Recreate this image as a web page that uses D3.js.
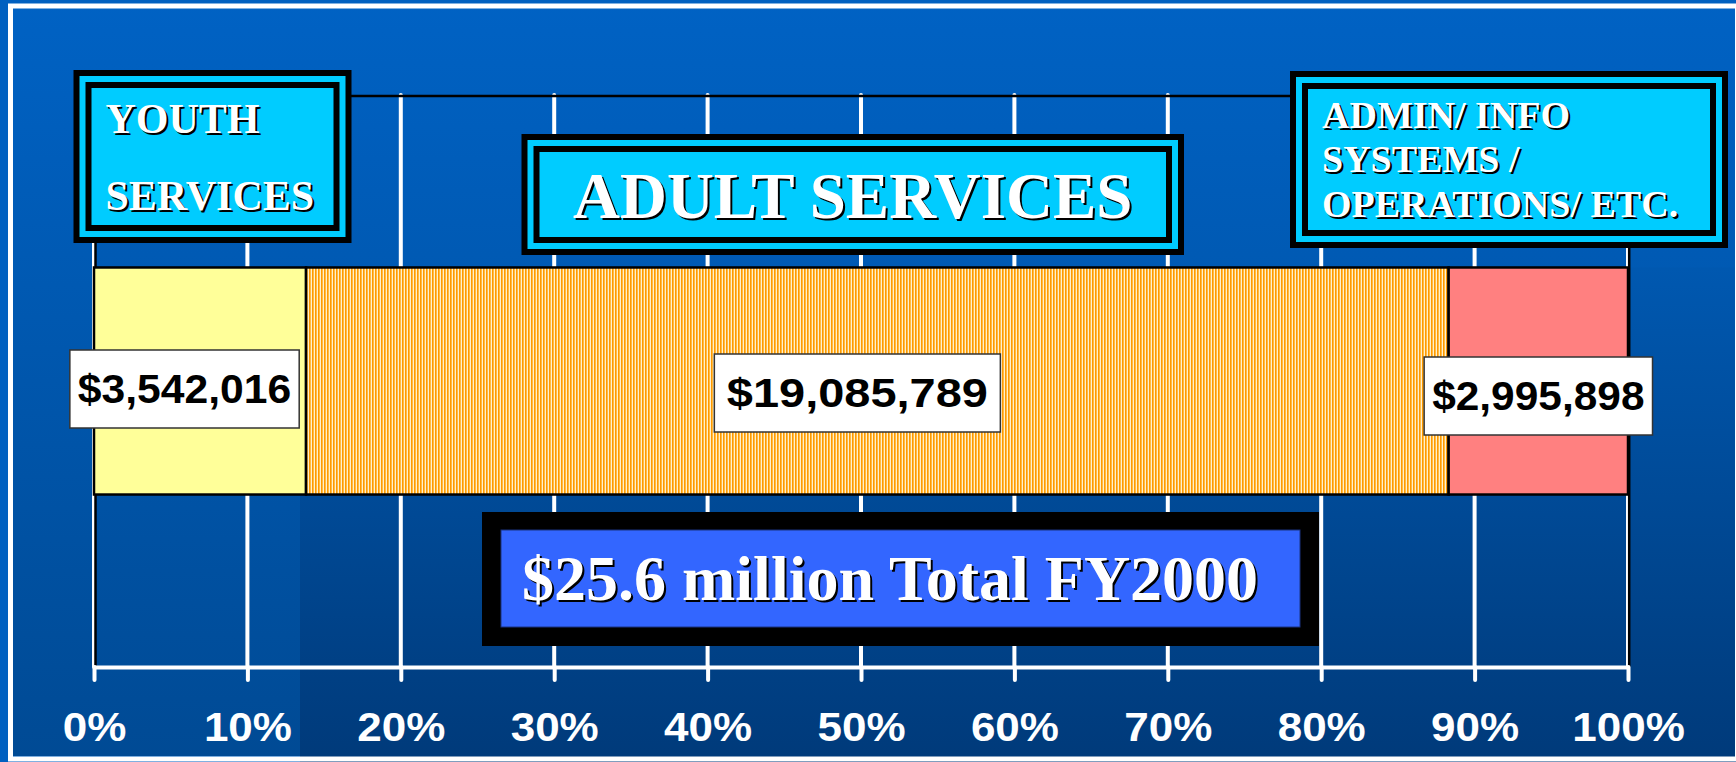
<!DOCTYPE html>
<html>
<head>
<meta charset="utf-8">
<script src="https://cdn.jsdelivr.net/npm/d3@7"></script>
<style>
  html, body { margin: 0; padding: 0; background: #0060c0; overflow: hidden; }
  svg { display: block; }
</style>
</head>
<body>
<svg id="chart" width="1736" height="762"></svg>
<script>
// Budget split for FY2000, stacked as one 100% bar
const categories = ["Youth Services", "Adult Services", "Admin / Info Systems / Operations"];
const amounts = [3542016, 19085789, 2995898];
const segmentColors = ["#ffff99", "url(#adultStripes)", "#ff8080"];

const tickValues = [0, 10, 20, 30, 40, 50, 60, 70, 80, 90, 100];
const tickLabels = ["0%", "10%", "20%", "30%", "40%", "50%", "60%", "70%", "80%", "90%", "100%"];

const headingLines = [
  ["YOUTH", "SERVICES"],
  ["ADULT SERVICES"],
  ["ADMIN/ INFO", "SYSTEMS /", "OPERATIONS/ ETC."]
];
const totalCaption = "$25.6 million Total FY2000";

// ---- layout ----
const W = 1736, H = 762;
const plot = { left: 94, right: 1628, top: 95, bottom: 667 };
const svg = d3.select("#chart");
const defs = svg.append("defs");

const x = d3.scaleLinear().domain([0, 100]).range([plot.left, plot.right]);
const y = d3.scaleBand().domain(["FY2000"]).range([plot.top, plot.bottom]).padding(0.4317);

const total = d3.sum(amounts);
let acc = 0;
const segments = amounts.map((v, i) => {
  const s = { name: categories[i], value: v, start: acc / total * 100, end: (acc + v) / total * 100, fill: segmentColors[i] };
  acc += v;
  return s;
});

// ---- background ----
const bgGrad = defs.append("linearGradient").attr("id", "bg")
  .attr("gradientUnits", "userSpaceOnUse").attr("x1", 0).attr("y1", 0).attr("x2", 0).attr("y2", H);
bgGrad.append("stop").attr("offset", 0).attr("stop-color", "#0062c4");
bgGrad.append("stop").attr("offset", 1).attr("stop-color", "#004a94");

const bandTop = y("FY2000");
const darkGrad = defs.append("linearGradient").attr("id", "bgDark")
  .attr("gradientUnits", "userSpaceOnUse").attr("x1", 0).attr("y1", bandTop).attr("x2", 0).attr("y2", H);
darkGrad.append("stop").attr("offset", 0).attr("stop-color", "#0058b0");
darkGrad.append("stop").attr("offset", 1).attr("stop-color", "#003a7a");

svg.append("rect").attr("width", W).attr("height", H).attr("fill", "#0060c0");
svg.append("rect").attr("x", 12).attr("y", 8).attr("width", W - 12).attr("height", H - 14).attr("fill", "url(#bg)");
svg.append("rect").attr("x", 300).attr("y", bandTop).attr("width", W - 300).attr("height", H - bandTop).attr("fill", "url(#bgDark)");
// white frame
svg.append("rect").attr("x", 10.5).attr("y", 6).attr("width", W - 10.5 + 1.5).attr("height", H - 9)
  .attr("fill", "none").attr("stroke", "#ffffff").attr("stroke-width", 5);

// ---- stripe pattern for the adult segment ----
const pat = defs.append("pattern").attr("id", "adultStripes")
  .attr("patternUnits", "userSpaceOnUse").attr("width", 3).attr("height", 10);
pat.append("rect").attr("width", 3).attr("height", 10).attr("fill", "#fff0cc");
pat.append("rect").attr("x", 0).attr("width", 1).attr("height", 10).attr("fill", "#ff9900");
pat.append("rect").attr("x", 1).attr("width", 1).attr("height", 10).attr("fill", "#ffbb44");

// ---- gridlines ----
svg.append("g").selectAll("line").data(tickValues).join("line")
  .attr("x1", d => x(d)).attr("x2", d => x(d))
  .attr("y1", plot.top).attr("y2", plot.bottom)
  .attr("stroke", "#ffffff").attr("stroke-width", 4).attr("stroke-linecap", "round");

// black plot frame (top, left, right)
const frame = svg.append("g").attr("stroke", "#000").attr("stroke-width", 2.5);
frame.append("line").attr("x1", x(0)).attr("x2", x(100) + 2).attr("y1", plot.top + 1).attr("y2", plot.top + 1);
frame.append("line").attr("x1", x(0) + 1.5).attr("x2", x(0) + 1.5).attr("y1", plot.top).attr("y2", plot.bottom);
frame.append("line").attr("x1", x(100) + 1.2).attr("x2", x(100) + 1.2).attr("y1", plot.top).attr("y2", plot.bottom);

// ---- heading boxes ----
const headingBoxes = [
  { x: 73.5, y: 70, w: 278, h: 173, anchor: "start", tx: 32, lines: headingLines[0], size: 42, baselines: [63, 140] },
  { x: 521.5, y: 134, w: 662.5, h: 121, anchor: "middle", tx: null, lines: headingLines[1], size: 65, baselines: [84] },
  { x: 1290, y: 71, w: 438, h: 177, anchor: "start", tx: 32, lines: headingLines[2], size: 38, baselines: [57, 101, 146] }
];

function shadowText(g, txt, tx, ty, size, anchor, family) {
  g.append("text").attr("x", tx + 2).attr("y", ty + 2).text(txt)
    .attr("text-anchor", anchor).attr("font-family", family).attr("font-weight", "bold")
    .attr("font-size", size).attr("fill", "#000");
  g.append("text").attr("x", tx).attr("y", ty).text(txt)
    .attr("text-anchor", anchor).attr("font-family", family).attr("font-weight", "bold")
    .attr("font-size", size).attr("fill", "#ffffff");
}

const serif = "'Liberation Serif', 'Times New Roman', serif";
headingBoxes.forEach(b => {
  const g = svg.append("g").attr("transform", `translate(${b.x},${b.y})`);
  [["#000", 0], ["#00ccff", 6], ["#000", 12], ["#00ccff", 18]].forEach(([c, inset]) => {
    g.append("rect").attr("x", inset).attr("y", inset)
      .attr("width", b.w - 2 * inset).attr("height", b.h - 2 * inset).attr("fill", c);
  });
  const tx = b.anchor === "middle" ? b.w / 2 : b.tx;
  b.lines.forEach((line, i) => shadowText(g, line, tx, b.baselines[i], b.size, b.anchor, serif));
});

// ---- stacked bar ----
const bars = svg.append("g");
bars.selectAll("rect").data(segments).join("rect")
  .attr("x", d => x(d.start)).attr("width", d => x(d.end) - x(d.start))
  .attr("y", y("FY2000")).attr("height", y.bandwidth())
  .attr("fill", d => d.fill)
  .attr("stroke", "#000").attr("stroke-width", 2.5);

// ---- value labels ----
const fmt = d3.format("$,");
const sans = "'Liberation Sans', Arial, Helvetica, sans-serif";
const labelNudge = [-15.5, -20, 0];
const labelDy = [8, 12, 15];
const labelStretch = [1.04, 1.145, 1.035];
const labelPad = [16, 25, 16];
const lbls = svg.append("g").selectAll("g").data(segments).join("g")
  .attr("transform", (d, i) => `translate(${(x(d.start) + x(d.end)) / 2 + labelNudge[i]},${y("FY2000") + y.bandwidth() / 2 + labelDy[i]})`);
lbls.each(function (d, i) {
  const g = d3.select(this);
  const tg = g.append("g").attr("transform", `scale(${labelStretch[i]},1)`);
  const t = tg.append("text").text(fmt(d.value))
    .attr("text-anchor", "middle").attr("y", 14)
    .attr("font-family", sans).attr("font-weight", "bold").attr("font-size", 41).attr("fill", "#000");
  const bw = t.node().getBBox().width * labelStretch[i] + labelPad[i], bh = 78;
  g.insert("rect", "g").attr("x", -bw / 2).attr("y", -bh / 2).attr("width", bw).attr("height", bh)
    .attr("fill", "#ffffff").attr("stroke", "#333").attr("stroke-width", 1.5);
});

// ---- total caption ----
const tb = { x: 482, y: 512, w: 837, h: 134 };
const tcap = svg.append("g").attr("transform", `translate(${tb.x},${tb.y})`);
tcap.append("rect").attr("width", tb.w).attr("height", tb.h).attr("fill", "#000");
tcap.append("rect").attr("x", 19).attr("y", 18).attr("width", tb.w - 38).attr("height", tb.h - 37)
  .attr("fill", "#3366ff").attr("stroke", "#1a3380").attr("stroke-width", 1);
shadowText(tcap, totalCaption, 40, 88, 64, "start", serif);

// ---- x axis ----
const axis = d3.axisBottom(x).tickValues(tickValues)
  .tickFormat((d, i) => tickLabels[i]).tickSize(13).tickSizeOuter(0).tickPadding(0);
const ax = svg.append("g").attr("transform", `translate(0,${plot.bottom})`).call(axis);
ax.select(".domain").attr("stroke", "#ffffff").attr("stroke-width", 4);
ax.selectAll(".tick line").attr("stroke", "#ffffff").attr("stroke-width", 4).attr("stroke-linecap", "round");
ax.selectAll(".tick text")
  .attr("y", 0).attr("dy", 0)
  .attr("transform", "translate(0,74) scale(1.1,1)")
  .attr("fill", "#ffffff")
  .attr("font-family", sans).attr("font-weight", "bold").attr("font-size", 40);
</script>
</body>
</html>
